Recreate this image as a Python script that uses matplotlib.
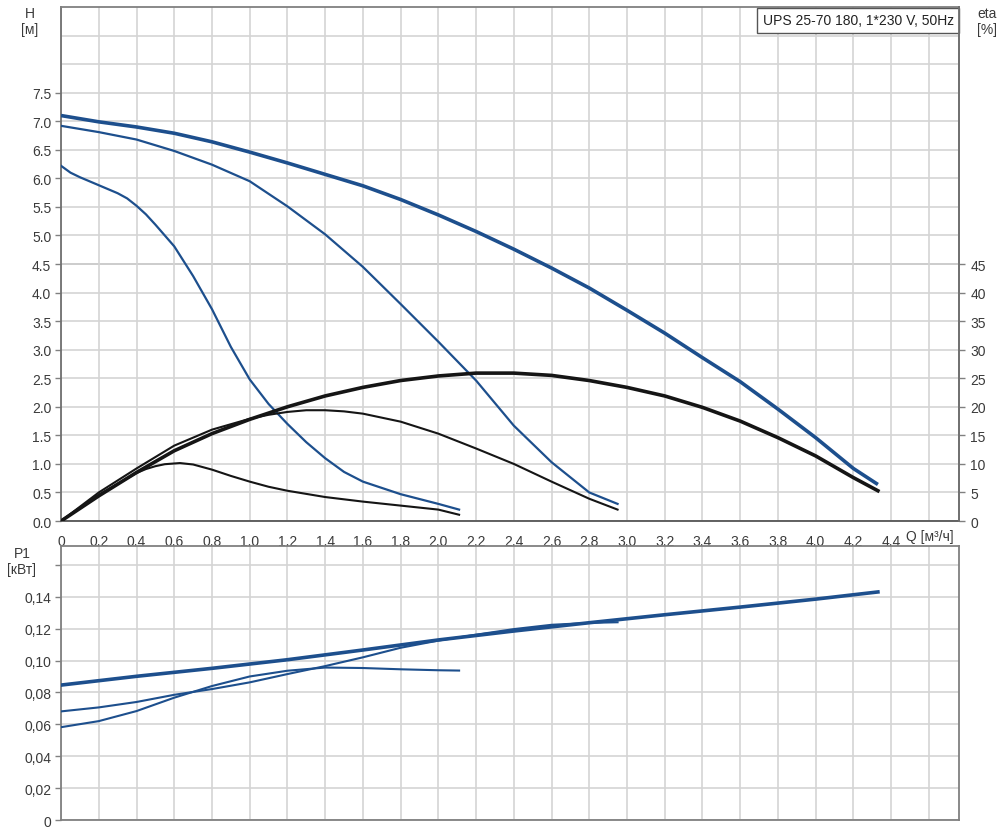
import numpy as np
import matplotlib.pyplot as plt
from matplotlib.ticker import FixedLocator, FuncFormatter

plt.rcParams['font.family'] = ['Liberation Sans', 'DejaVu Sans']

# Напорные характеристики H(Q) на трёх скоростях
q_h1 = [0, 0.2, 0.4, 0.6, 0.8, 1.0, 1.2, 1.4, 1.6, 1.8, 2.0, 2.2, 2.4, 2.6, 2.8, 3.0, 3.2, 3.4, 3.6, 3.8, 4.0, 4.2, 4.33]
h1 = [7.10, 6.99, 6.90, 6.79, 6.64, 6.46, 6.27, 6.07, 5.87, 5.63, 5.36, 5.07, 4.76, 4.43, 4.08, 3.69, 3.29, 2.86, 2.44, 1.96, 1.46, 0.92, 0.64]

q_h2 = [0, 0.2, 0.4, 0.6, 0.8, 1.0, 1.2, 1.4, 1.6, 1.8, 2.0, 2.2, 2.4, 2.6, 2.8, 2.95]
h2 = [6.92, 6.81, 6.68, 6.48, 6.24, 5.95, 5.51, 5.02, 4.45, 3.80, 3.14, 2.46, 1.67, 1.03, 0.50, 0.30]

q_h3 = [0, 0.05, 0.1, 0.2, 0.3, 0.35, 0.4, 0.45, 0.5, 0.6, 0.7, 0.8, 0.9, 1.0, 1.1, 1.2, 1.3, 1.4, 1.5, 1.6, 1.8, 2.0, 2.11]
h3 = [6.22, 6.10, 6.02, 5.88, 5.74, 5.65, 5.52, 5.37, 5.19, 4.81, 4.29, 3.71, 3.05, 2.48, 2.05, 1.70, 1.38, 1.10, 0.86, 0.69, 0.47, 0.30, 0.20]

# КПД eta [%]
q_e1 = [0, 0.2, 0.4, 0.6, 0.8, 1.0, 1.2, 1.4, 1.6, 1.8, 2.0, 2.2, 2.4, 2.6, 2.8, 3.0, 3.2, 3.4, 3.6, 3.8, 4.0, 4.2, 4.33]
e1 = [0, 4.4, 8.5, 12.3, 15.3, 17.8, 20.0, 21.9, 23.4, 24.6, 25.4, 25.9, 25.9, 25.5, 24.6, 23.4, 21.9, 19.9, 17.5, 14.6, 11.4, 7.6, 5.3]

q_e2 = [0, 0.2, 0.4, 0.6, 0.8, 1.0, 1.1, 1.2, 1.3, 1.4, 1.5, 1.6, 1.8, 2.0, 2.2, 2.4, 2.6, 2.8, 2.95]
e2 = [0, 5.0, 9.2, 13.2, 16.0, 17.9, 18.6, 19.1, 19.4, 19.4, 19.2, 18.8, 17.4, 15.3, 12.7, 10.0, 6.9, 3.9, 2.0]

q_e3 = [0, 0.2, 0.4, 0.45, 0.5, 0.55, 0.63, 0.7, 0.8, 0.9, 1.0, 1.1, 1.2, 1.4, 1.6, 1.8, 2.0, 2.11]
e3 = [0, 4.6, 8.4, 9.1, 9.6, 9.95, 10.15, 9.9, 9.0, 7.9, 6.9, 6.0, 5.3, 4.2, 3.4, 2.7, 2.0, 1.1]

# Потребляемая мощность P1 [кВт]
q_p1 = [0, 0.4, 0.8, 1.2, 1.6, 2.0, 2.4, 2.8, 3.2, 3.6, 4.0, 4.33]
p1 = [0.0846, 0.0901, 0.0951, 0.1005, 0.1066, 0.1129, 0.1185, 0.1237, 0.1287, 0.1335, 0.1385, 0.1430]

q_p2 = [0, 0.2, 0.4, 0.6, 0.8, 1.0, 1.2, 1.4, 1.6, 1.8, 2.0, 2.2, 2.4, 2.6, 2.8, 2.95]
p2 = [0.0681, 0.0706, 0.0740, 0.0785, 0.0821, 0.0863, 0.0915, 0.0965, 0.1020, 0.1080, 0.1125, 0.1162, 0.1197, 0.1224, 0.1236, 0.1240]

q_p3 = [0, 0.2, 0.4, 0.6, 0.8, 1.0, 1.2, 1.4, 1.6, 1.8, 2.0, 2.11]
p3 = [0.0582, 0.0620, 0.0683, 0.0767, 0.0840, 0.0900, 0.0936, 0.0956, 0.0953, 0.0945, 0.0939, 0.0937]

q_ticks = [round(0.2 * i, 1) for i in range(23)]
h_ticks = [0.5 * i for i in range(16)]
eta_ticks = list(range(0, 50, 5))
p_ticks = [0.02 * i for i in range(9)]

BLUE = '#1d4f8d'
BLACK = '#151515'
GRID = '#d4d4d4'
TXT = '#3a3a3a'
FS = 10


def comma(v, pos=None):
    if abs(v) < 1e-9:
        return '0'
    return ('%.1f' % v).replace('.', ',')


def comma2(v, pos=None):
    if abs(v) < 1e-9:
        return '0'
    if v > 0.15:
        return ''
    return ('%.2f' % v).replace('.', ',')


fig = plt.figure(figsize=(10.04, 8.29), dpi=100)
ax_h = fig.add_axes([0.0608, 0.3703, 0.8944, 0.6200])
ax_eta = ax_h.twinx()
ax_p = fig.add_axes([0.0608, 0.00965, 0.8944, 0.3305])

for ax in (ax_h, ax_p):
    ax.set_xlim(0, 4.76)
    ax.xaxis.set_major_locator(FixedLocator(q_ticks))
    ax.xaxis.set_minor_locator(FixedLocator([4.6]))
    ax.grid(True, which='both', color=GRID, lw=1.2, zorder=0)
    ax.set_axisbelow(True)
    for s in ax.spines.values():
        s.set_color('#808080')
        s.set_linewidth(1.3)
    ax.tick_params(which='minor', length=0)
    ax.tick_params(axis='y', which='major', length=4, width=1, color='#808080',
                   labelsize=FS, labelcolor=TXT, pad=3)

# верхний график: напор и КПД
ax_h.set_ylim(0, 9)
ax_h.yaxis.set_major_locator(FixedLocator(h_ticks))
ax_h.yaxis.set_minor_locator(FixedLocator([8.0, 8.5]))
ax_h.yaxis.set_major_formatter(FuncFormatter(lambda v, p: '%.1f' % v))
ax_h.xaxis.set_major_formatter(FuncFormatter(comma))
ax_h.tick_params(axis='x', which='major', length=0, labelsize=FS, labelcolor=TXT, pad=9)
ax_h.axhline(4.5, color='#a9a9a9', lw=1.4, zorder=0.5)
ax_h.spines['bottom'].set_color('#555555')
ax_h.spines['left'].set_color('#707070')

ax_h.plot(q_h1, h1, color=BLUE, lw=2.6, solid_capstyle='butt', zorder=3)
ax_h.plot(q_h2, h2, color=BLUE, lw=1.6, zorder=3)
ax_h.plot(q_h3, h3, color=BLUE, lw=1.6, zorder=3)

ax_eta.set_ylim(0, 90)
ax_eta.yaxis.set_major_locator(FixedLocator(eta_ticks))
ax_eta.yaxis.set_major_formatter(FuncFormatter(lambda v, p: '%d' % v))
ax_eta.tick_params(axis='y', length=4, width=1, color='#808080',
                   labelsize=FS, labelcolor=TXT, pad=4)
for s in ax_eta.spines.values():
    s.set_visible(False)
ax_eta.spines['right'].set_visible(True)
ax_eta.spines['right'].set_color('#707070')
ax_eta.spines['right'].set_linewidth(1.3)

ax_eta.plot(q_e1, e1, color=BLACK, lw=2.6, zorder=3)
ax_eta.plot(q_e2, e2, color=BLACK, lw=1.5, zorder=3)
ax_eta.plot(q_e3, e3, color=BLACK, lw=1.5, zorder=3)

ax_h.text(0.9942, 0.988, 'UPS 25-70 180, 1*230 V, 50Hz', transform=ax_h.transAxes,
          ha='right', va='top', fontsize=FS, color='#222222', zorder=5,
          bbox=dict(boxstyle='square,pad=0.4', fc='white', ec='#555555', lw=1))

# нижний график: мощность
ax_p.set_ylim(0, 0.1718)
ax_p.yaxis.set_major_locator(FixedLocator(p_ticks))
ax_p.yaxis.set_major_formatter(FuncFormatter(comma2))
ax_p.tick_params(axis='x', which='both', length=0, labelbottom=False)

ax_p.plot(q_p1, p1, color=BLUE, lw=2.6, zorder=3)
ax_p.plot(q_p2, p2, color=BLUE, lw=1.5, zorder=3)
ax_p.plot(q_p3, p3, color=BLUE, lw=1.5, zorder=3)

# подписи осей
W, H = 1004.0, 829.0
def lbl(x, y, s, ha='center'):
    fig.text(x / W, 1 - y / H, s, ha=ha, va='center', fontsize=FS, color=TXT)

lbl(30, 14, 'H')
lbl(30, 30, '[м]')
lbl(987, 14, 'eta')
lbl(987, 30, '[%]')
lbl(22, 554, 'P1')
lbl(22, 570, '[кВт]')
lbl(906, 537, 'Q [м³/ч]', ha='left')

fig.savefig('out.png', dpi=100)
